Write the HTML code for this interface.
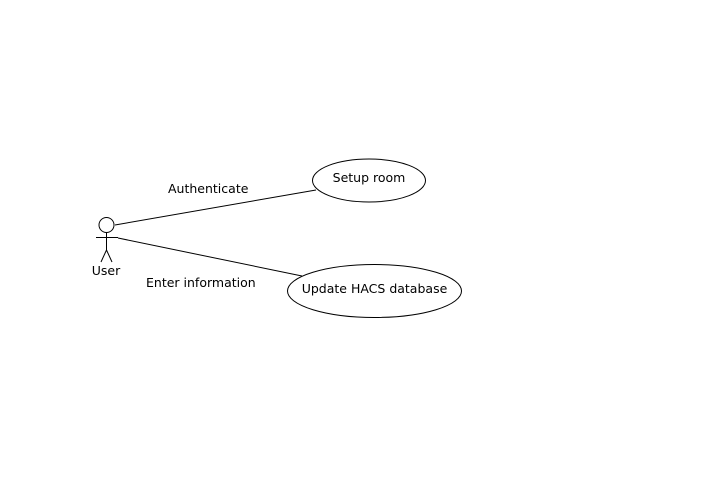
<!DOCTYPE html>
<html><head><meta charset="utf-8"><style>
html,body{margin:0;padding:0;background:#fff;width:710px;height:478px;overflow:hidden}
svg text{font-family:"DejaVu Sans","Liberation Sans",sans-serif;font-size:12.5px;fill:#000}
</style></head><body>
<svg width="710" height="478" viewBox="0 0 710 478" xmlns="http://www.w3.org/2000/svg">
<g stroke="#000" stroke-width="1" fill="none">
<circle cx="106.5" cy="225" r="7.5" fill="#fff"/>
<line x1="106.5" y1="232.5" x2="106.5" y2="250"/>
<line x1="96" y1="237.5" x2="118" y2="237.5"/>
<line x1="106.5" y1="250" x2="101" y2="262"/>
<line x1="106.5" y1="250" x2="112" y2="262"/>
<line x1="115" y1="225" x2="316" y2="190"/>
<line x1="118" y1="238" x2="302" y2="276"/>
<ellipse cx="369" cy="180.5" rx="56.5" ry="21.5" fill="#fff"/>
<ellipse cx="374.5" cy="291" rx="87" ry="26.5" fill="#fff"/>
</g>
<text x="106" y="275" text-anchor="middle">User</text>
<text x="168" y="193">Authenticate</text>
<text x="146" y="287">Enter information</text>
<text x="369" y="182" text-anchor="middle">Setup room</text>
<text x="374.5" y="293" text-anchor="middle">Update HACS database</text>
</svg>
</body></html>
